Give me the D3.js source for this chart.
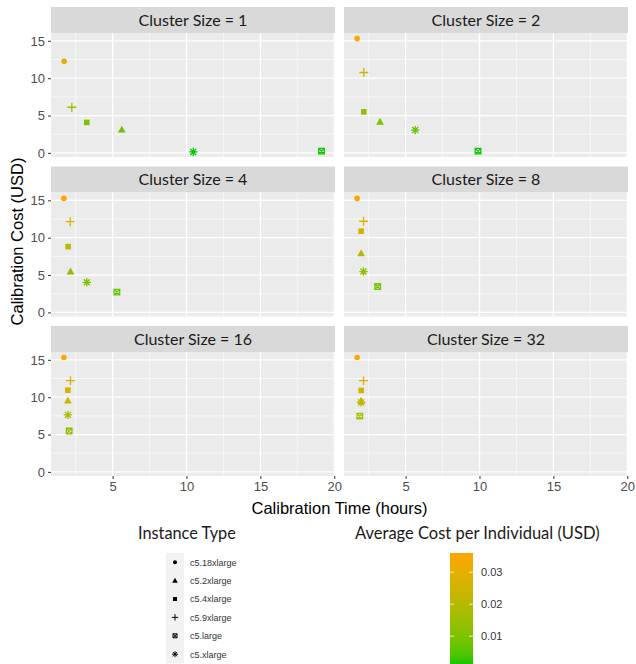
<!DOCTYPE html>
<html>
<head>
<meta charset="utf-8">
<script src="https://cdn.jsdelivr.net/npm/d3@7"></script>
<style>
  body { margin: 0; background: #fff; }
</style>
</head>
<body>
<div id="chart"></div>
<script>
const clusterSizes = [1, 2, 4, 8, 16, 32];
const instanceTypes = ["c5.18xlarge", "c5.2xlarge", "c5.4xlarge", "c5.9xlarge", "c5.large", "c5.xlarge"];

// one row per cluster size, columns in instanceTypes order
const calibTime = [
  [1.72, 5.62, 3.25, 2.24, 19.14, 10.46],
  [1.72, 3.27, 2.17, 2.17, 9.90, 5.65],
  [1.70, 2.15, 1.99, 2.13, 5.29, 3.25],
  [1.72, 1.99, 1.99, 2.15, 3.11, 2.15],
  [1.70, 1.97, 1.97, 2.15, 2.06, 1.97],
  [1.72, 1.99, 1.99, 2.15, 1.90, 1.99]
];
const calibCost = [
  [12.27, 3.10, 4.08, 6.11, 0.23, 0.13],
  [15.30, 4.15, 5.50, 10.76, 0.23, 3.05],
  [15.26, 5.45, 8.80, 12.14, 2.71, 4.03],
  [15.26, 7.90, 10.87, 12.20, 3.46, 5.47],
  [15.31, 9.55, 10.94, 12.22, 5.47, 7.63],
  [15.31, 9.50, 10.90, 12.22, 7.46, 9.30]
];
const avgCost = [
  [0.0289, 0.0073, 0.0096, 0.0144, 0.0005, 0.0003],
  [0.0360, 0.0098, 0.0129, 0.0253, 0.0005, 0.0072],
  [0.0359, 0.0128, 0.0207, 0.0286, 0.0064, 0.0095],
  [0.0359, 0.0186, 0.0256, 0.0287, 0.0081, 0.0129],
  [0.0360, 0.0225, 0.0257, 0.0288, 0.0129, 0.0180],
  [0.0360, 0.0224, 0.0256, 0.0288, 0.0176, 0.0219]
];

const xTicks = [5, 10, 15, 20];
const xMinor = [2.5, 7.5, 12.5, 17.5];
const yTicks = [0, 5, 10, 15];
const yMinor = [2.5, 7.5, 12.5];
const colorTicks = [0.01, 0.02, 0.03];

const W = 636, H = 664;
const colX = [51, 344], colW = 284;
const rowY = [7, 166.5, 326], stripH = 26, plotH = 124;

const svg = d3.select("#chart").append("svg")
  .attr("width", W).attr("height", H)
  .style("font-family", "'Liberation Sans', Arial, sans-serif");

const x = d3.scaleLinear().domain([0.83, 20.05]).range([0, colW]);
const y = d3.scaleLinear().domain([-0.55, 16.05]).range([plotH, 0]);

const allAvg = avgCost.flat();
const color = d3.scaleLinear()
  .domain(d3.extent(allAvg))
  .range(["#00C800", "#FFA500"])
  .interpolate(d3.interpolateLab);

// marker paths, s = half size
function markerPath(t, s) {
  const p = d3.path();
  if (t === 0) { p.arc(0, 0, s, 0, 2 * Math.PI); }
  else if (t === 1) {
    const h = s * 1.45;
    p.moveTo(0, -h); p.lineTo(h * 0.95, h * 0.7); p.lineTo(-h * 0.95, h * 0.7); p.closePath();
  }
  else if (t === 2) { p.rect(-s, -s, 2 * s, 2 * s); }
  else if (t === 3) {
    const a = s * 1.6;
    p.moveTo(-a, 0); p.lineTo(a, 0); p.moveTo(0, -a); p.lineTo(0, a);
  }
  else if (t === 4) {
    p.rect(-s, -s, 2 * s, 2 * s);
    p.moveTo(-s, -s); p.lineTo(s, s); p.moveTo(s, -s); p.lineTo(-s, s);
  }
  else {
    const a = s * 1.5, d = a * 0.72;
    p.moveTo(-a, 0); p.lineTo(a, 0); p.moveTo(0, -a); p.lineTo(0, a);
    p.moveTo(-d, -d); p.lineTo(d, d); p.moveTo(d, -d); p.lineTo(-d, d);
  }
  return p.toString();
}
const filled = t => t === 0 || t === 1 || t === 2;

clusterSizes.forEach((cs, i) => {
  const col = i % 2, row = Math.floor(i / 2);
  const g = svg.append("g").attr("transform", `translate(${colX[col]},${rowY[row]})`);

  // strip
  g.append("rect").attr("width", colW).attr("height", stripH).attr("fill", "#D9D9D9");
  g.append("text")
    .attr("x", colW / 2).attr("y", stripH / 2 + 5.5)
    .attr("text-anchor", "middle")
    .style("font-family", "Lato, 'Open Sans', sans-serif")
    .style("font-size", "16px").attr("fill", "#1A1A1A")
    .text(`Cluster Size = ${cs}`);

  const p = g.append("g").attr("transform", `translate(0,${stripH})`);
  p.append("rect").attr("width", colW).attr("height", plotH).attr("fill", "#EBEBEB");

  p.selectAll(".vmin").data(xMinor).join("line")
    .attr("x1", d => x(d)).attr("x2", d => x(d)).attr("y1", 0).attr("y2", plotH)
    .attr("stroke", "#fff").attr("stroke-width", 0.6);
  p.selectAll(".hmin").data(yMinor).join("line")
    .attr("y1", d => y(d)).attr("y2", d => y(d)).attr("x1", 0).attr("x2", colW)
    .attr("stroke", "#fff").attr("stroke-width", 0.6);
  p.selectAll(".vmaj").data(xTicks).join("line")
    .attr("x1", d => x(d)).attr("x2", d => x(d)).attr("y1", 0).attr("y2", plotH)
    .attr("stroke", "#fff").attr("stroke-width", 1.3);
  p.selectAll(".hmaj").data(yTicks).join("line")
    .attr("y1", d => y(d)).attr("y2", d => y(d)).attr("x1", 0).attr("x2", colW)
    .attr("stroke", "#fff").attr("stroke-width", 1.3);

  // points
  const pts = instanceTypes.map((t, j) => ({
    t: j, x: calibTime[i][j], y: calibCost[i][j], c: avgCost[i][j]
  }));
  p.selectAll(".pt").data(pts).join("path")
    .attr("transform", d => `translate(${x(d.x)},${y(d.y)})`)
    .attr("d", d => markerPath(d.t, 2.8))
    .attr("fill", d => filled(d.t) ? color(d.c) : "none")
    .attr("stroke", d => filled(d.t) ? "none" : color(d.c))
    .attr("stroke-width", 1.3);

  // y axis on left column
  if (col === 0) {
    const ya = p.append("g").call(d3.axisLeft(y).tickValues(yTicks).tickSize(3).tickPadding(3));
    ya.select(".domain").remove();
    ya.selectAll("line").attr("stroke", "#333");
    ya.selectAll("text").attr("fill", "#4D4D4D").style("font-size", "13px");
  }
  // x axis on bottom row
  if (row === 2) {
    const xa = p.append("g").attr("transform", `translate(0,${plotH})`)
      .call(d3.axisBottom(x).tickValues(xTicks).tickSize(3).tickPadding(3));
    xa.select(".domain").remove();
    xa.selectAll("line").attr("stroke", "#333");
    xa.selectAll("text").attr("fill", "#4D4D4D").style("font-size", "13px");
  }
});

// axis titles
svg.append("text")
  .attr("transform", `translate(23,${(rowY[0] + rowY[2] + stripH + plotH) / 2}) rotate(-90)`)
  .attr("text-anchor", "middle").style("font-size", "16.5px").attr("fill", "#000")
  .text("Calibration Cost (USD)");
svg.append("text")
  .attr("x", (colX[0] + colX[1] + colW) / 2).attr("y", 514)
  .attr("text-anchor", "middle").style("font-size", "16.5px").attr("fill", "#000")
  .text("Calibration Time (hours)");

// shape legend
const lg = svg.append("g");
lg.append("text").attr("x", 138).attr("y", 539)
  .style("font-family", "Lato, 'Open Sans', sans-serif").style("font-size", "16.3px").attr("fill", "#1A1A1A")
  .text("Instance Type");
const keyH = 18.4, keyTop = 553;
lg.append("rect").attr("x", 166).attr("y", keyTop).attr("width", 18).attr("height", keyH * 6)
  .attr("fill", "#F2F2F2");
const keys = lg.selectAll(".key").data(instanceTypes).join("g")
  .attr("transform", (d, j) => `translate(175,${keyTop + keyH * (j + 0.5)})`);
keys.append("path")
  .attr("d", (d, j) => markerPath(j, 2))
  .attr("fill", (d, j) => filled(j) ? "#000" : "none")
  .attr("stroke", (d, j) => filled(j) ? "none" : "#000")
  .attr("stroke-width", 1);
keys.append("text").attr("x", 15).attr("y", 3.3)
  .style("font-size", "9px").attr("fill", "#333").text(d => d);

// colour bar legend
svg.append("text").attr("x", 355).attr("y", 539)
  .style("font-family", "Lato, 'Open Sans', sans-serif").style("font-size", "16.5px").attr("fill", "#1A1A1A")
  .text("Average Cost per Individual (USD)");
const [cmin, cmax] = d3.extent(allAvg);
const barTop = 553, barX = 450, barW = 23;
const cy = d3.scaleLinear().domain([cmin, cmax]).range([barTop + (cmax - cmin) * 3200, barTop]);
const grad = svg.append("defs").append("linearGradient").attr("id", "cbar")
  .attr("x1", 0).attr("y1", 1).attr("x2", 0).attr("y2", 0);
d3.range(0, 1.0001, 0.1).forEach(f => {
  grad.append("stop").attr("offset", f).attr("stop-color", color(cmin + f * (cmax - cmin)));
});
svg.append("rect").attr("x", barX).attr("y", cy(cmax)).attr("width", barW)
  .attr("height", cy(cmin) - cy(cmax)).attr("fill", "url(#cbar)");
const ct = svg.append("g").selectAll("g").data(colorTicks).join("g");
ct.append("line").attr("x1", barX).attr("x2", barX + 4).attr("y1", d => cy(d)).attr("y2", d => cy(d))
  .attr("stroke", "#fff").attr("stroke-width", 0.8);
ct.append("line").attr("x1", barX + barW - 4).attr("x2", barX + barW).attr("y1", d => cy(d)).attr("y2", d => cy(d))
  .attr("stroke", "#fff").attr("stroke-width", 0.8);
ct.append("text").attr("x", barX + barW + 8).attr("y", d => cy(d) + 4)
  .style("font-size", "11px").attr("fill", "#333").text(d => d.toFixed(2));
</script>
</body>
</html>
